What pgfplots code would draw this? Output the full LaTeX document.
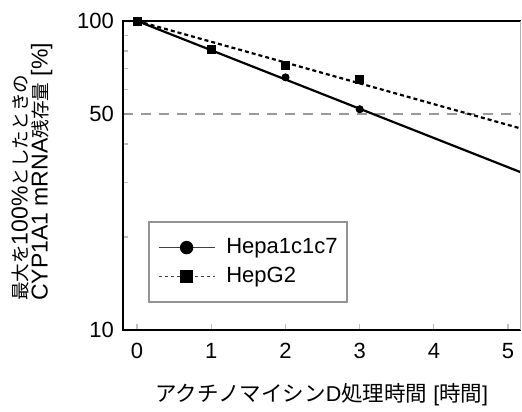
\documentclass[border=0pt]{standalone}
\usepackage{pgfplots}
\pgfplotsset{compat=1.18}
\usepackage{fontspec}
\setmainfont{Liberation Sans}
\newfontfamily\cjk{Noto Sans CJK JP}
\newcommand\yj[1]{{\fontsize{9.3}{10}\cjk #1}}
\begin{document}
\begin{tikzpicture}[font=\fontsize{11}{13}\selectfont]
\path[use as bounding box] (-61.5pt,-40.5pt) rectangle (199.5pt,165pt);
\begin{axis}[
  name=ax, at={(0pt,0pt)}, anchor=south west,
  scale only axis, width=198.85pt, height=154.5pt,
  xmin=-0.19, xmax=5.17, ymin=10, ymax=100, ymode=log,
  axis line style={draw=none},
  tick align=inside, xtick pos=bottom, ytick pos=left,
  xtick={0,1,2,3,4,5}, xticklabels={0,1,2,3,4,5},
  ytick={10,50,100}, yticklabels={10,50,100},
  minor ytick={20,30,40,60,70,80,90},
  major tick length=3pt, minor tick length=2.5pt,
  every tick/.style={gray!50, line width=0.6pt},
  xticklabel style={font=\fontsize{11}{13}\selectfont, yshift=-3pt},
  yticklabel style={font=\fontsize{11}{13}\selectfont, xshift=-1pt},
  xlabel={{\cjk アクチノマイシン}D{\cjk 処理時間} [{\cjk 時間}]},
  xlabel style={at={(axis description cs:0.5,0)}, anchor=center, yshift=-32.5pt, font=\fontsize{10.75}{13}\selectfont},
  ylabel={\yj{最大を}100\%\yj{としたときの}\\CYP1A1 mRNA\yj{残存量} [\%]},
  ylabel style={at={(axis description cs:0,0.5)}, anchor=center, yshift=45.5pt, xshift=1.75pt, align=left, font=\fontsize{11.5}{10}\selectfont},
  legend style={at={(axis description cs:0.0629,0.0874)}, anchor=south west,
    draw=gray!85, line width=0.9pt, inner xsep=4.5pt, inner ysep=7.5pt,
    row sep=4pt, column sep=5.5pt,
    nodes={inner sep=0pt, text height=8pt, text depth=2.5pt},
    font=\fontsize{11}{13}\selectfont},
  legend cell align=left,
  legend image code/.code={\draw[mark repeat=2, mark phase=2] plot coordinates {(0pt,0pt) (14pt,0pt) (28pt,0pt)};},
]
\addlegendimage{black!75, line width=0.7pt, mark=*, mark size=3pt, mark options={solid, fill=black, draw=black}}
\addlegendentry{Hepa1c1c7}
\addlegendimage{black!75, line width=0.7pt, dash pattern=on 1.5pt off 1.5pt, mark=square*, mark size=3pt, mark options={solid, fill=black, draw=black}}
\addlegendentry{HepG2}

\addplot[gray!80, line width=0.8pt, dash pattern=on 5pt off 4pt, forget plot] coordinates {(-0.19,50) (5.17,50)};
\addplot[black, line width=1.1pt, forget plot] coordinates {(0,100) (5.3,31.5)};
\addplot[black, line width=1.1pt, dash pattern=on 2pt off 1.5pt, forget plot] coordinates {(0,100) (5.3,44.0)};
\addplot[only marks, mark=*, mark size=1.8pt, black, forget plot] coordinates {(0,100) (1,81) (2,65.7) (3,51.8)};
\addplot[only marks, mark=square*, mark size=2pt, black, forget plot] coordinates {(0,100) (1,81) (2,72) (3,64.8)};
\end{axis}
\draw[black, line width=1.3pt] (ax.north east) -- (ax.north west) -- (ax.south west) -- (ax.south east);
\draw[gray!60, line width=0.5pt] (ax.south east) -- (ax.north east);
\end{tikzpicture}
\end{document}
